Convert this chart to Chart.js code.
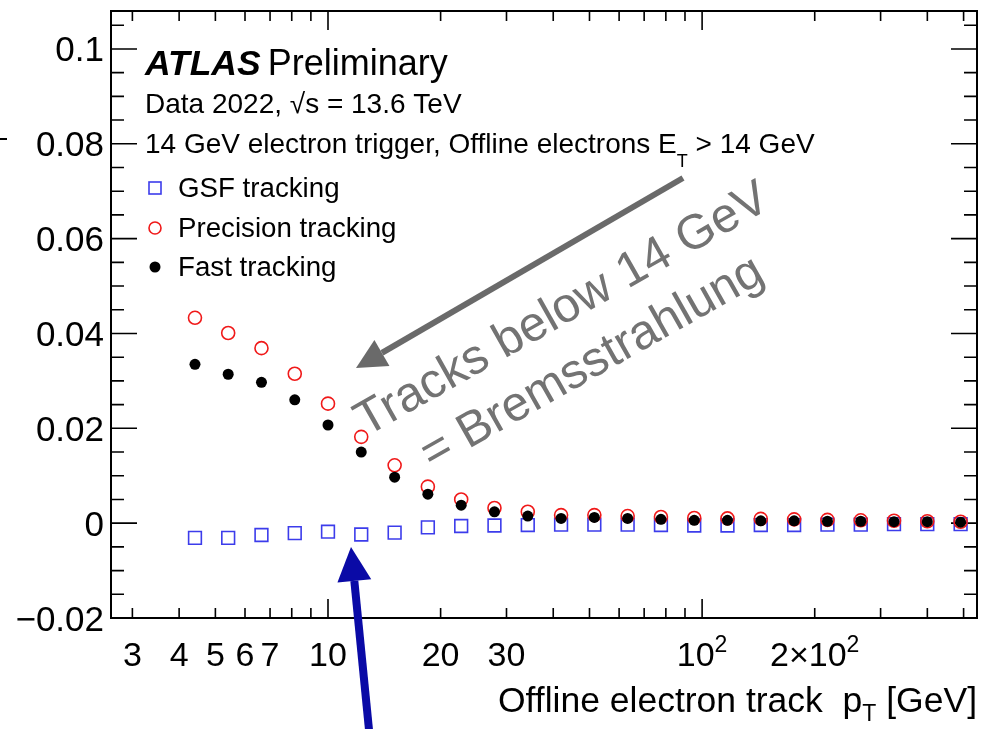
<!DOCTYPE html>
<html>
<head>
<meta charset="utf-8">
<script src="https://cdn.jsdelivr.net/npm/chart.js@4.4.1/dist/chart.umd.min.js"></script>
<style>
  html, body { margin: 0; padding: 0; background: #fff; }
  canvas { display: block; }
</style>
</head>
<body>
<canvas id="chart" width="982" height="729"></canvas>
<script>
// bin centres in offline track pT [GeV]
const ptBins = [4.41, 5.41, 6.64, 8.15, 10.0, 12.27, 15.07, 18.49, 22.70, 27.86, 34.20, 41.98,
  51.52, 63.24, 77.62, 95.28, 116.9, 143.5, 176.2, 216.3, 265.5, 325.8, 399.9, 490.9];

const gsfTracking = [-0.0031, -0.0031, -0.0025, -0.0021, -0.0018, -0.0024, -0.0020, -0.0009,
  -0.0006, -0.0005, -0.0004, -0.0003, -0.0003, -0.0003, -0.0004, -0.0005, -0.0005, -0.0004,
  -0.0004, -0.0003, -0.0003, -0.0002, -0.0002, -0.0002];
const precisionTracking = [0.0433, 0.0401, 0.0369, 0.0315, 0.0252, 0.0182, 0.0122, 0.0077,
  0.0050, 0.0032, 0.0024, 0.0017, 0.0017, 0.0015, 0.0013, 0.0011, 0.0010, 0.0009, 0.0008,
  0.0007, 0.0006, 0.0005, 0.0004, 0.0003];
const fastTracking = [0.0335, 0.0314, 0.0297, 0.0260, 0.0207, 0.0150, 0.0097, 0.0061, 0.0038,
  0.0024, 0.0015, 0.0010, 0.0012, 0.0010, 0.0008, 0.0006, 0.0006, 0.0005, 0.0005, 0.0004,
  0.0004, 0.0003, 0.0003, 0.0002];

// axis ticks
const xTickValues = [3, 4, 5, 6, 7, 8, 9, 10, 20, 30, 40, 50, 60, 70, 80, 90, 100, 200, 300, 400, 500];
const xMajorTicks = [10, 100];
const xLabelValues = [3, 4, 5, 6, 7, 10, 20, 30, 100, 200];
const xLabels = ['3', '4', '5', '6', '7', '10', '20', '30', '10^2', '2\u00d710^2'];
const yTickValues = [-0.02, -0.015, -0.01, -0.005, 0, 0.005, 0.01, 0.015, 0.02, 0.025, 0.03,
  0.035, 0.04, 0.045, 0.05, 0.055, 0.06, 0.065, 0.07, 0.075, 0.08, 0.085, 0.09, 0.095, 0.1, 0.105];
const yLabelValues = [-0.02, 0, 0.02, 0.04, 0.06, 0.08, 0.1];
const yLabels = ['\u22120.02', '0', '0.02', '0.04', '0.06', '0.08', '0.1'];

const FONT = '"Liberation Sans", Arial, Helvetica, sans-serif';
const BLUE = 'rgb(60,60,235)';
const RED = 'rgb(240,25,25)';

function toPoints(ys) {
  return ptBins.map((x, i) => ({ x, y: ys[i] }));
}

// draws a sequence of text pieces; sub/sup pieces are shifted and smaller
function drawRuns(ctx, x, y, runs) {
  let cx = x;
  runs.forEach((r) => {
    ctx.font = r.font;
    ctx.fillText(r.t, cx, y + (r.dy || 0));
    cx += ctx.measureText(r.t).width;
  });
  return cx;
}

function runsWidth(ctx, runs) {
  let w = 0;
  runs.forEach((r) => { ctx.font = r.font; w += ctx.measureText(r.t).width; });
  return w;
}

function labelRuns(label, size) {
  const parts = label.split('^');
  const runs = [{ t: parts[0], font: size + 'px ' + FONT }];
  if (parts[1]) runs.push({ t: parts[1], font: Math.round(size * 0.68) + 'px ' + FONT, dy: -size * 0.42 });
  return runs;
}

function drawArrow(ctx, x1, y1, x2, y2, width, headLen, headHalf, color) {
  const ang = Math.atan2(y2 - y1, x2 - x1);
  const bx = x2 - headLen * Math.cos(ang);
  const by = y2 - headLen * Math.sin(ang);
  ctx.save();
  ctx.strokeStyle = color;
  ctx.fillStyle = color;
  ctx.lineWidth = width;
  ctx.lineCap = 'butt';
  ctx.beginPath();
  ctx.moveTo(x1, y1);
  ctx.lineTo(bx, by);
  ctx.stroke();
  ctx.beginPath();
  ctx.moveTo(x2, y2);
  ctx.lineTo(bx + headHalf * Math.sin(ang), by - headHalf * Math.cos(ang));
  ctx.lineTo(bx - headHalf * Math.sin(ang), by + headHalf * Math.cos(ang));
  ctx.closePath();
  ctx.fill();
  ctx.restore();
}

const frameAndAxes = {
  id: 'frameAndAxes',
  beforeDatasetsDraw(chart) {
    const { ctx, chartArea: a, scales: { x, y } } = chart;
    ctx.save();
    ctx.strokeStyle = '#000';
    ctx.lineWidth = 2;
    ctx.strokeRect(a.left, a.top, a.right - a.left, a.bottom - a.top);

    ctx.lineWidth = 1.6;
    ctx.beginPath();
    xTickValues.forEach((v) => {
      const px = x.getPixelForValue(v);
      const len = xMajorTicks.includes(v) ? 19 : 10;
      ctx.moveTo(px, a.bottom); ctx.lineTo(px, a.bottom - len);
      ctx.moveTo(px, a.top); ctx.lineTo(px, a.top + len);
    });
    yTickValues.forEach((v) => {
      const py = y.getPixelForValue(v);
      const major = yLabelValues.some((l) => Math.abs(l - v) < 1e-9);
      const len = major ? 26 : 13;
      ctx.moveTo(a.left, py); ctx.lineTo(a.left + len, py);
      ctx.moveTo(a.right, py); ctx.lineTo(a.right - len, py);
    });
    ctx.stroke();

    // tick labels
    ctx.fillStyle = '#000';
    ctx.textBaseline = 'alphabetic';
    ctx.textAlign = 'right';
    ctx.font = '35px ' + FONT;
    yLabelValues.forEach((v, i) => {
      ctx.fillText(yLabels[i], a.left - 7, y.getPixelForValue(v) + 12.5);
    });
    ctx.textAlign = 'left';
    xLabelValues.forEach((v, i) => {
      const runs = labelRuns(xLabels[i], 34);
      const w = runsWidth(ctx, runs);
      drawRuns(ctx, x.getPixelForValue(v) - w / 2, a.bottom + 48, runs);
    });

    // x axis title
    const title = [
      { t: 'Offline electron track  p', font: '35.5px ' + FONT },
      { t: 'T', font: '23px ' + FONT, dy: 9 },
      { t: ' [GeV]', font: '35.5px ' + FONT },
    ];
    drawRuns(ctx, a.right - runsWidth(ctx, title), 712, title);

    // clipped end of the y axis title
    ctx.lineWidth = 2;
    ctx.beginPath();
    ctx.moveTo(0, 139); ctx.lineTo(7, 139);
    ctx.stroke();
    ctx.restore();
  },
  afterDraw(chart) {
    const { ctx } = chart;
    ctx.save();
    ctx.fillStyle = '#000';
    ctx.textAlign = 'left';
    ctx.textBaseline = 'alphabetic';

    const xEnd = drawRuns(ctx, 145, 75, [{ t: 'ATLAS', font: 'italic bold 35.5px ' + FONT }]);
    drawRuns(ctx, xEnd + 7, 75, [{ t: 'Preliminary', font: '36px ' + FONT }]);
    drawRuns(ctx, 145, 113, [{ t: 'Data 2022, \u221as = 13.6 TeV', font: '28px ' + FONT }]);
    drawRuns(ctx, 145, 153, [
      { t: '14 GeV electron trigger, Offline electrons E', font: '28px ' + FONT },
      { t: 'T', font: '18px ' + FONT, dy: 14 },
      { t: ' > 14 GeV', font: '28px ' + FONT },
    ]);

    // legend
    const legend = [
      { text: 'GSF tracking', y: 197, style: 'square' },
      { text: 'Precision tracking', y: 237, style: 'open' },
      { text: 'Fast tracking', y: 276, style: 'dot' },
    ];
    legend.forEach((e) => {
      const my = e.y - 9;
      ctx.beginPath();
      if (e.style === 'square') {
        ctx.strokeStyle = BLUE; ctx.lineWidth = 1.6;
        ctx.strokeRect(155 - 6, my - 6, 12, 12);
      } else if (e.style === 'open') {
        ctx.strokeStyle = RED; ctx.lineWidth = 1.6;
        ctx.arc(155, my, 6, 0, Math.PI * 2); ctx.stroke();
      } else {
        ctx.fillStyle = '#000';
        ctx.arc(155, my, 5.5, 0, Math.PI * 2); ctx.fill();
      }
      ctx.fillStyle = '#000';
      drawRuns(ctx, 178, e.y, [{ t: e.text, font: '27.7px ' + FONT }]);
    });

    // annotations
    drawArrow(ctx, 683, 178, 356, 368, 6, 30, 15, '#6a6a6a');
    drawArrow(ctx, 370, 740, 351, 547, 8, 34, 17, '#0a0aa6');

    ctx.save();
    ctx.translate(366, 437);
    ctx.rotate(-29.5 * Math.PI / 180);
    ctx.fillStyle = '#737373';
    ctx.font = '49px ' + FONT;
    const l1 = 'Tracks below 14 GeV';
    const l2 = '= Bremsstrahlung';
    const w1 = ctx.measureText(l1).width;
    const w2 = ctx.measureText(l2).width;
    ctx.fillText(l1, 0, 0);
    ctx.fillText(l2, (w1 - w2) / 2, 61);
    ctx.restore();

    ctx.restore();
  },
};

new Chart(document.getElementById('chart'), {
  type: 'scatter',
  data: {
    datasets: [
      {
        label: 'Fast tracking',
        data: toPoints(fastTracking),
        pointStyle: 'circle',
        pointRadius: 5.5,
        backgroundColor: '#000',
        borderColor: '#000',
        borderWidth: 0,
        order: 1,
      },
      {
        label: 'Precision tracking',
        data: toPoints(precisionTracking),
        pointStyle: 'circle',
        pointRadius: 6.5,
        backgroundColor: 'rgba(0,0,0,0)',
        borderColor: RED,
        borderWidth: 1.6,
        order: 2,
      },
      {
        label: 'GSF tracking',
        data: toPoints(gsfTracking),
        pointStyle: 'rect',
        pointRadius: 9,
        backgroundColor: 'rgba(0,0,0,0)',
        borderColor: BLUE,
        borderWidth: 1.6,
        order: 3,
      },
    ],
  },
  options: {
    responsive: false,
    devicePixelRatio: 1,
    animation: false,
    events: [],
    layout: { autoPadding: false, padding: { left: 0, top: 11, right: 5, bottom: 0 } },
    plugins: { legend: { display: false }, tooltip: { enabled: false } },
    scales: {
      x: {
        type: 'logarithmic',
        min: 2.63,
        max: 543,
        grid: { display: false, drawTicks: false },
        border: { display: false },
        ticks: { display: false },
        afterBuildTicks: (s) => { s.ticks = xTickValues.map((v) => ({ value: v })); },
        afterFit: (s) => { s.height = 111; },
      },
      y: {
        min: -0.02,
        max: 0.108,
        grid: { display: false, drawTicks: false },
        border: { display: false },
        ticks: { display: false },
        afterBuildTicks: (s) => { s.ticks = yTickValues.map((v) => ({ value: v })); },
        afterFit: (s) => { s.width = 111; },
      },
    },
  },
  plugins: [frameAndAxes],
});
</script>
</body>
</html>
